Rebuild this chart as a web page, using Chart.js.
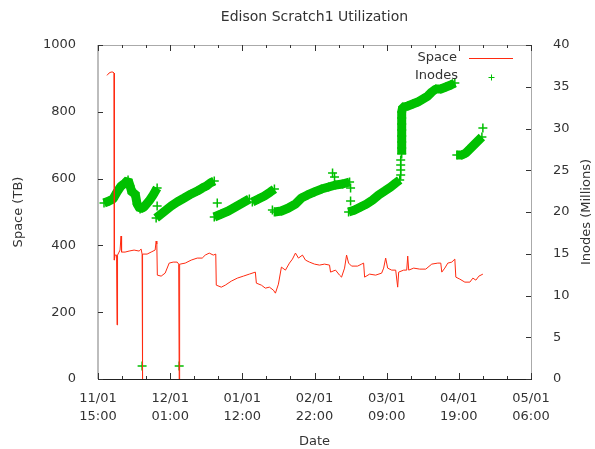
<!DOCTYPE html>
<html><head><meta charset="utf-8">
<script src="https://cdn.jsdelivr.net/npm/chart.js@4"></script>
<style>html,body{margin:0;padding:0;background:#fff}</style>
</head><body>
<canvas id="c" width="595" height="449"></canvas>
<script>
const chartTitle = 'Edison Scratch1 Utilization';
const xTitle = 'Date';
const yTitle = 'Space (TB)';
const y2Title = 'Inodes (Millions)';
const xTickDates = ['11/01','12/01','01/01','02/01','03/01','04/01','05/01'];
const xTickTimes = ['15:00','01:00','12:00','22:00','09:00','19:00','06:00'];
const xSpanDays = 180.625;   // days from 11/01 15:00 to 05/01 06:00

// Space (TB): days since 11/01 15:00
const spaceDays = [3.76,4.60,5.44,6.27,6.69,6.82,7.11,7.74,7.94,8.15,8.78,9.20,9.62,9.83,11.29,12.96,15.05,17.14,17.98,18.40,18.52,18.65,20.49,22.16,23.83,24.25,24.54,24.75,26.34,28.01,29.69,31.36,33.03,33.66,33.87,33.99,34.12,34.29,36.38,38.88,41.39,43.48,44.74,46.41,48.08,49.13,49.34,51.43,53.10,55.61,58.12,60.63,63.13,65.64,66.06,68.15,69.82,71.50,73.17,74.01,75.26,76.51,78.19,79.86,81.11,82.37,83.62,85.29,86.55,88.22,90.31,92.40,94.49,96.58,97.00,99.09,100.76,101.60,102.85,103.69,104.53,105.78,108.29,109.96,110.80,111.22,113.31,115.82,118.33,119.16,120.00,120.83,122.51,124.18,125.01,125.43,127.52,128.78,129.20,129.61,131.70,134.21,136.72,139.23,141.74,142.99,143.41,144.67,145.92,147.59,148.85,149.27,150.94,153.03,155.12,156.37,157.63,158.88,160.55];
const spaceTB = [909,916,919,919,916,356,371,371,162,371,380,386,428,380,380,383,386,383,389,374,0,374,374,380,386,413,404,311,308,317,347,350,350,344,0,171,344,344,347,356,362,362,371,377,371,374,281,275,281,293,302,308,314,320,287,281,272,275,266,257,284,335,326,347,359,377,362,371,356,350,344,341,344,341,320,326,311,305,332,371,347,338,338,344,347,305,314,311,317,332,362,332,326,326,275,320,326,326,368,326,332,329,329,344,347,347,320,332,347,350,359,305,299,290,290,302,296,308,314];

// Inodes (millions): null = break between runs of points
const inodeDays = [2.51,4.60,6.27,7.94,9.62,11.29,12.54,13.38,14.22,15.47,16.31,17.56,19.23,21.32,23.00,24.67,null,
 18.40,null,24.67,null,
 24.25,26.34,28.43,30.52,33.03,35.96,38.88,41.39,43.48,45.16,46.83,48.50,null,
 33.87,null,49.75,null,
 48.50,51.43,54.35,57.28,60.21,63.13,null,
 64.39,66.90,69.41,71.91,73.59,null,
 72.75,null,
 73.59,76.51,79.44,82.37,84.88,87.39,90.31,93.24,96.17,99.09,102.02,104.95,null,
 97.84,null,98.67,null,105.36,null,105.36,null,
 104.53,107.04,109.54,112.05,114.56,117.07,119.58,122.09,124.18,125.85,null,
 126.27,null,126.27,null,126.27,null,126.27,null,
 126.69,126.69,126.69,126.69,126.69,126.69,126.69,126.69,127.11,129.20,131.29,133.38,135.47,137.56,139.23,140.90,142.99,145.08,147.17,148.85,null,
 149.68,151.77,153.45,155.12,156.79,158.46,160.14,null,
 160.55];
const inodeMillions = [21.08,21.32,21.56,22.40,23.11,23.47,23.83,23.11,22.28,22.28,20.96,20.36,20.60,21.32,22.04,22.87,null,
 1.56,null,20.72,null,
 19.28,19.76,20.24,20.72,21.20,21.68,22.16,22.51,22.87,23.11,23.47,23.71,null,
 1.56,null,21.08,null,
 19.40,19.76,20.12,20.60,21.08,21.56,null,
 21.20,21.56,21.92,22.40,22.75,null,
 20.24,null,
 20.00,20.12,20.48,20.96,21.68,22.04,22.40,22.75,22.99,23.23,23.35,23.59,null,
 24.67,null,24.19,null,22.87,null,21.32,null,
 20.00,20.24,20.60,20.96,21.44,22.04,22.51,22.99,23.47,23.83,null,
 24.43,null,25.03,null,25.63,null,26.23,null,
 26.95,27.66,28.38,29.10,29.82,30.54,31.26,31.98,32.57,32.69,32.93,33.17,33.53,33.89,34.37,34.73,34.73,34.97,35.21,35.45,null,
 26.83,26.83,27.07,27.54,28.02,28.50,28.98,null,
 30.06];

const RED = '#ff2a10', GREEN = '#00c000', TXT = '#333333';
const FONT = 'DejaVu Sans';

const spacePts = spaceDays.map((d, i) => ({x: d, y: spaceTB[i]}));
const inodePts = inodeDays.map((d, i) => d === null ? {x: inodeDays[i-1], y: null} : {x: d, y: inodeMillions[i]});

const decor = {
  id: 'decor',
  afterDraw(chart) {
    const ctx = chart.ctx, a = chart.chartArea;
    const xs = chart.scales.x, ys = chart.scales.y, y2s = chart.scales.y2;
    ctx.save();
    // borders
    ctx.lineWidth = 1;
    ctx.strokeStyle = '#aaaaaa';
    ctx.beginPath(); ctx.moveTo(a.left, a.top + 0.5); ctx.lineTo(a.right, a.top + 0.5); ctx.stroke();
    ctx.beginPath(); ctx.moveTo(a.right + 0.5, a.top); ctx.lineTo(a.right + 0.5, a.bottom); ctx.stroke();
    ctx.strokeStyle = '#bdbdbd'; ctx.lineWidth = 2;
    ctx.beginPath(); ctx.moveTo(a.left, a.top); ctx.lineTo(a.left, a.bottom); ctx.stroke();
    ctx.strokeStyle = '#222222'; ctx.lineWidth = 1;
    ctx.beginPath(); ctx.moveTo(a.left, a.bottom + 0.5); ctx.lineTo(a.right + 1, a.bottom + 0.5); ctx.stroke();
    // inward ticks
    ctx.strokeStyle = '#333333'; ctx.lineWidth = 1;
    xs.ticks.forEach((t, i) => {
      const px = Math.round(xs.getPixelForValue(t.value)) + 0.5;
      const len = i % 3 === 0 ? 6 : 3;
      ctx.beginPath();
      ctx.moveTo(px, a.bottom); ctx.lineTo(px, a.bottom - len);
      ctx.moveTo(px, a.top); ctx.lineTo(px, a.top + len);
      ctx.stroke();
    });
    ys.ticks.forEach(t => {
      const py = Math.round(ys.getPixelForValue(t.value)) + 0.5;
      ctx.beginPath(); ctx.moveTo(a.left, py); ctx.lineTo(a.left + 5, py); ctx.stroke();
    });
    y2s.ticks.forEach(t => {
      const py = Math.round(y2s.getPixelForValue(t.value)) + 0.5;
      ctx.beginPath(); ctx.moveTo(a.right, py); ctx.lineTo(a.right - 5, py); ctx.stroke();
    });
    // texts
    ctx.fillStyle = TXT;
    ctx.textBaseline = 'middle';
    ctx.textAlign = 'center';
    const midX = (a.left + a.right) / 2, midY = (a.top + a.bottom) / 2;
    ctx.font = '14px "' + FONT + '"';
    ctx.fillText(chartTitle, midX, 17);
    ctx.font = '13px "' + FONT + '"';
    ctx.fillText(xTitle, midX, 442);
    ctx.save(); ctx.translate(19, midY); ctx.rotate(-Math.PI / 2); ctx.fillText(yTitle, 0, 0); ctx.restore();
    ctx.save(); ctx.translate(587, midY); ctx.rotate(-Math.PI / 2); ctx.fillText(y2Title, 0, 0); ctx.restore();
    // legend (inside plot, top right)
    const ds = chart.data.datasets;
    ctx.textAlign = 'right';
    ctx.fillText(ds[0].label, a.right - 74, a.top + 13);
    ctx.fillText(ds[1].label, a.right - 73, a.top + 31);
    ctx.strokeStyle = RED; ctx.lineWidth = 1;
    ctx.beginPath(); ctx.moveTo(a.right - 62, a.top + 13.5); ctx.lineTo(a.right - 18, a.top + 13.5); ctx.stroke();
    ctx.strokeStyle = GREEN;
    const cx = a.right - 39.5, cy = a.top + 32.5;
    ctx.beginPath(); ctx.moveTo(cx - 3, cy); ctx.lineTo(cx + 3, cy); ctx.moveTo(cx, cy - 3); ctx.lineTo(cx, cy + 3); ctx.stroke();
    ctx.restore();
  }
};

new Chart(document.getElementById('c'), {
  type: 'line',
  data: {
    datasets: [
      {label: 'Space', data: spacePts, yAxisID: 'y', borderColor: RED, borderWidth: 1,
       pointRadius: 0, tension: 0, spanGaps: false},
      {label: 'Inodes', data: inodePts, yAxisID: 'y2', borderColor: GREEN, backgroundColor: GREEN,
       borderWidth: 9, borderJoinStyle: 'bevel', borderCapStyle: 'butt',
       pointStyle: 'cross', pointRadius: 4.5, pointBorderWidth: 1.5, pointBorderColor: GREEN,
       tension: 0, spanGaps: false}
    ]
  },
  options: {
    responsive: false, animation: false, devicePixelRatio: 1,
    layout: {padding: {top: 45, left: 0, right: 0, bottom: 0}},
    plugins: {legend: {display: false}, title: {display: false}, tooltip: {enabled: false}},
    scales: {
      x: {
        type: 'linear', min: 0, max: xSpanDays,
        afterBuildTicks: s => { const t = []; for (let i = 0; i <= 18; i++) t.push({value: i * xSpanDays / 18}); s.ticks = t; },
        grid: {display: false}, border: {display: false},
        ticks: {autoSkip: false, maxRotation: 0, minRotation: 0, padding: 3, color: TXT,
          font: {family: FONT, size: 13, lineHeight: 1.35},
          callback: (v, i) => i % 3 === 0 ? [xTickDates[i / 3], xTickTimes[i / 3]] : ''},
        afterFit: s => { s.height = 70; }
      },
      y: {
        position: 'left', min: 0, max: 1000,
        grid: {display: false}, border: {display: false},
        ticks: {stepSize: 200, padding: 14, color: TXT, font: {family: FONT, size: 13}, callback: v => String(v)},
        afterFit: s => { s.width = 98; }
      },
      y2: {
        position: 'right', min: 0, max: 40,
        grid: {display: false}, border: {display: false},
        ticks: {stepSize: 5, padding: 14, color: TXT, font: {family: FONT, size: 13}, callback: v => String(v)},
        afterFit: s => { s.width = 64; }
      }
    }
  },
  plugins: [decor]
});
</script>
</body></html>
